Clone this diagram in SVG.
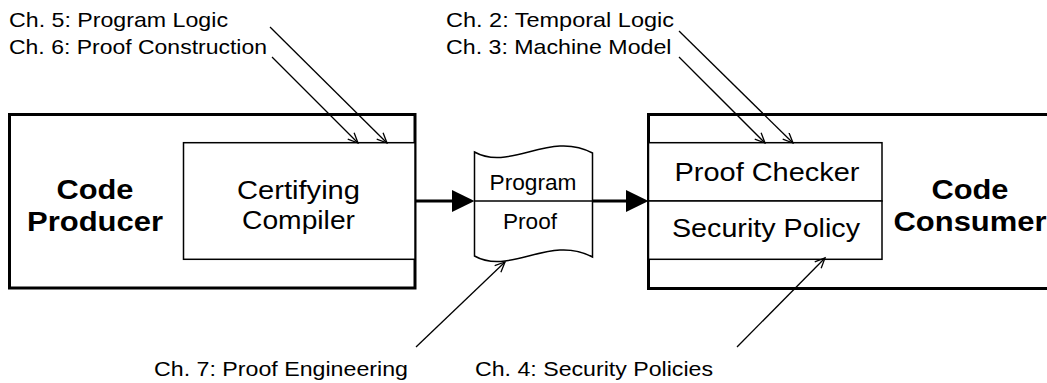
<svg xmlns="http://www.w3.org/2000/svg" width="1047" height="383" viewBox="0 0 1047 383">
<style>
text{font-family:"Liberation Sans",Arial,sans-serif;fill:#000}
.lbl{font-size:21px}
.mid{font-size:25px;text-anchor:middle}
.doc{font-size:22px;text-anchor:middle}
.big{font-size:27px;font-weight:bold;text-anchor:middle}
.outer{fill:#fff;stroke:#000;stroke-width:3}
.inner{fill:#fff;stroke:#000;stroke-width:1.5}
.thin{stroke:#000;stroke-width:1.3;fill:none;marker-end:url(#open)}
.thick{stroke:#000;stroke-width:3;fill:none}
</style>
<defs>
<marker id="open" markerUnits="userSpaceOnUse" markerWidth="14" markerHeight="12" refX="11" refY="5" orient="auto" viewBox="0 0 14 12">
<path d="M1,0.5 L11,5 L1,9.5" fill="none" stroke="#000" stroke-width="1.3"/>
</marker>
</defs>
<g id="producer">
<rect class="outer" x="9.5" y="114.5" width="405.5" height="173.5"/>
<text class="big" x="95" y="199.3" textLength="77" lengthAdjust="spacingAndGlyphs">Code</text>
<text class="big" x="95" y="231" textLength="136" lengthAdjust="spacingAndGlyphs">Producer</text>
</g>
<g id="compiler">
<rect class="inner" x="183.5" y="142.7" width="231.5" height="116.6"/>
<text class="mid" x="298.5" y="199.3" textLength="123" lengthAdjust="spacingAndGlyphs">Certifying</text>
<text class="mid" x="298.5" y="229.3" textLength="113" lengthAdjust="spacingAndGlyphs">Compiler</text>
</g>
<g id="consumer">
<rect class="outer" x="648.5" y="114.5" width="420" height="174"/>
<text class="big" x="970" y="199.3" textLength="77" lengthAdjust="spacingAndGlyphs">Code</text>
<text class="big" x="970" y="231" textLength="153" lengthAdjust="spacingAndGlyphs">Consumer</text>
</g>
<g id="checker">
<rect class="inner" x="648.5" y="142.7" width="233.5" height="58.3"/>
<text class="mid" x="767" y="180.7" textLength="185" lengthAdjust="spacingAndGlyphs">Proof Checker</text>
</g>
<g id="policy">
<rect class="inner" x="648.5" y="201" width="233.5" height="58.3"/>
<text class="mid" x="766" y="236.7" textLength="188" lengthAdjust="spacingAndGlyphs">Security Policy</text>
</g>
<g id="document">
<path d="M474.5,152 C510,172 550,130 592.5,153 L592.5,257 C550,234 510,276 474.5,256 Z" fill="#fff" stroke="#000" stroke-width="1.5"/>
<line x1="474.5" y1="201" x2="592.5" y2="201" stroke="#000" stroke-width="1.5"/>
<text class="doc" x="533" y="190" textLength="87" lengthAdjust="spacingAndGlyphs">Program</text>
<text class="doc" x="530" y="229.3" textLength="54" lengthAdjust="spacingAndGlyphs">Proof</text>
</g>
<g id="labels">
<text class="lbl" x="9" y="26.5" textLength="219" lengthAdjust="spacingAndGlyphs">Ch. 5: Program Logic</text>
<text class="lbl" x="9" y="53.5" textLength="258" lengthAdjust="spacingAndGlyphs">Ch. 6: Proof Construction</text>
<text class="lbl" x="446" y="26.5" textLength="228" lengthAdjust="spacingAndGlyphs">Ch. 2: Temporal Logic</text>
<text class="lbl" x="446" y="53.5" textLength="225.5" lengthAdjust="spacingAndGlyphs">Ch. 3: Machine Model</text>
<text class="lbl" x="154" y="376" textLength="254" lengthAdjust="spacingAndGlyphs">Ch. 7: Proof Engineering</text>
<text class="lbl" x="475" y="376" textLength="238" lengthAdjust="spacingAndGlyphs">Ch. 4: Security Policies</text>
</g>
<g id="connectors">
<line class="thick" x1="415" y1="201" x2="453" y2="201"/>
<polygon points="452,190 474.5,201 452,212" fill="#000"/>
<line class="thick" x1="592.5" y1="201" x2="627" y2="201"/>
<polygon points="626,190 648.5,201 626,212" fill="#000"/>
<line class="thin" x1="270" y1="27" x2="387" y2="143"/>
<line class="thin" x1="272" y1="57" x2="358" y2="143"/>
<line class="thin" x1="679" y1="31" x2="793" y2="143"/>
<line class="thin" x1="679" y1="57" x2="765" y2="143"/>
<line class="thin" x1="416" y1="347" x2="505" y2="262"/>
<line class="thin" x1="737" y1="347" x2="825" y2="258"/>
</g>
</svg>
